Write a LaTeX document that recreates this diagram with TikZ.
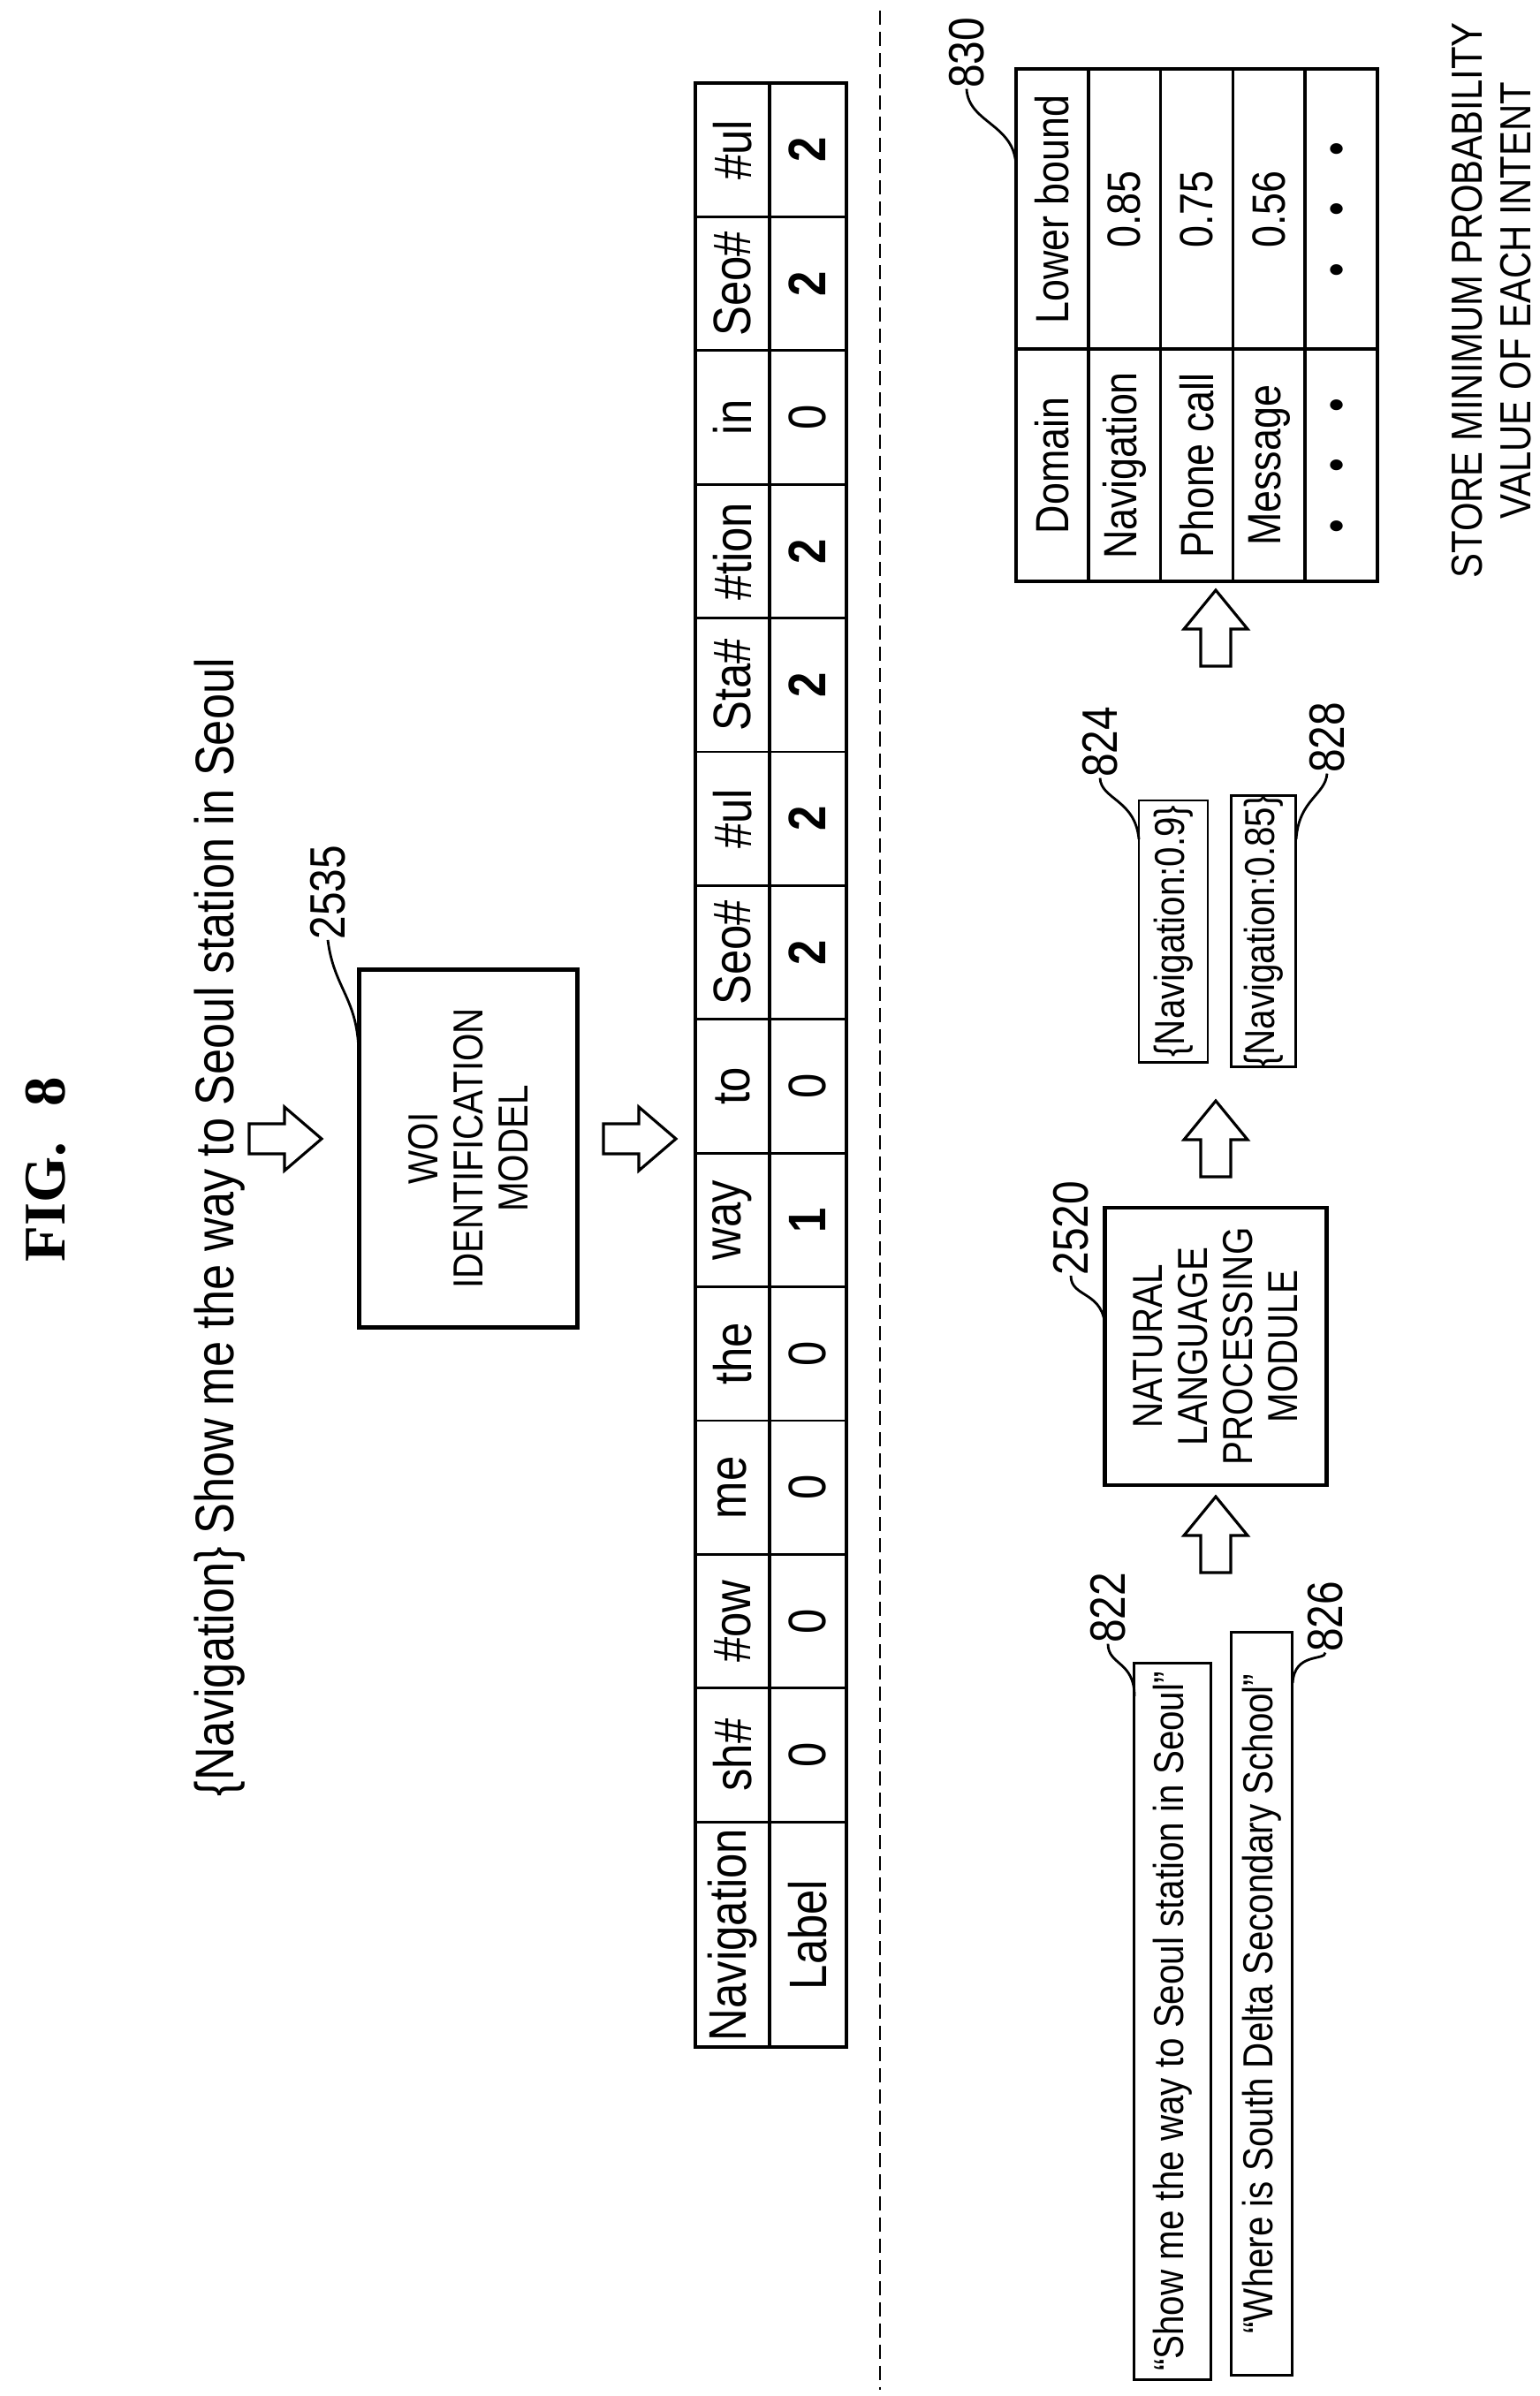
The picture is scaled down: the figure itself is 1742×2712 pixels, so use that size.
\documentclass[tikz,border=0pt]{standalone}
\usepackage{fontspec}
\setmainfont{Liberation Sans}[FakeStretch=0.85]
\newfontfamily\figfont{Liberation Serif}
\begin{document}
\begin{tikzpicture}[x=0.01cm,y=-0.01cm,
  txt/.style={rotate=90,inner sep=0pt,font=\fontsize{17}{20}\selectfont},
  small/.style={rotate=90,inner sep=0pt,align=center,font=\fontsize{13.5}{14.5}\selectfont},
  num/.style={rotate=90,inner sep=0pt,font=\fontsize{16}{18}\selectfont},
  box/.style={rotate=90,draw,line width=1.3pt,align=center,inner sep=0pt,font=\fontsize{13.5}{14.5}\selectfont},
  thinbox/.style={rotate=90,draw,line width=0.8pt,inner sep=0pt,font=\fontsize{13.5}{14.5}\selectfont},
  lead/.style={line width=0.8pt},
  grid/.style={line width=0.8pt},
  outer/.style={line width=1.4pt},
  harrow/.style={draw,line width=0.9pt,fill=white}]
\useasboundingbox (0,0) rectangle (1742,2712);
% title
\node[rotate=90,inner sep=0pt,font=\figfont\bfseries\fontsize{19}{22}\selectfont] (title) at (52,1324) {FIG.\hspace{0.6em}8};
\node[txt,font=\fontsize{17.5}{20}\selectfont] (sent) at (249,1389) {\{Navigation\} Show me the way to Seoul station in Seoul};
\newcommand{\rarrow}[2]{\draw[harrow] (#1-40,#2-17) -- (#1,#2-17) -- (#1,#2-36) -- (#1+42,#2) -- (#1,#2+36) -- (#1,#2+17) -- (#1-40,#2+17) -- cycle;}
\newcommand{\uarrow}[2]{\draw[harrow] (#1-17,#2+42) -- (#1-17,#2) -- (#1-36,#2) -- (#1,#2-44) -- (#1+36,#2) -- (#1+17,#2) -- (#1+17,#2+42) -- cycle;}
\rarrow{322}{1289}
\node[box,minimum width=4.05cm,minimum height=2.47cm,line width=1.6pt] (woi) at (530,1300) {WOI\\IDENTIFICATION\\MODEL};
\node[num] (l2535) at (371,1010) {2535};
\coordinate (e2535) at (406,1195);
\draw[lead] (l2535.west) .. controls (378,1120) and (406,1130) .. (e2535);
\rarrow{723}{1289}
% table
\draw[outer] (787,94) rectangle (958,2317);
\draw[outer] (871,94) -- (871,2317);
\foreach \k in {1,...,13} {\draw[grid] (787,{94+\k*151.4}) -- (958,{94+\k*151.4});}
\foreach \t/\v [count=\k from 0] in {\#ul/\textbf{2},Seo\#/\textbf{2},in/0,\#tion/\textbf{2},Sta\#/\textbf{2},\#ul/\textbf{2},Seo\#/\textbf{2},to/0,way/\textbf{1},the/0,me/0,\#ow/0,sh\#/0} {
  \node[txt] (h\k) at (829,{94+(\k+0.5)*151.4}) {\t};
  \node[txt] (v\k) at (914,{94+(\k+0.5)*151.4}) {\v};
}
\node[txt] (hnav) at (829,2190) {Navigation};
\node[txt] (vlab) at (914,2190) {Label};
% dashed
\draw[line width=0.7pt,dash pattern=on 0.16cm off 0.08cm] (996,12) -- (996,2705);
% bottom boxes
\node[thinbox,minimum width=8.1cm,minimum height=0.87cm] (b822) at (1327,2288) {“Show me the way to Seoul station in Seoul”};
\node[thinbox,minimum width=8.4cm,minimum height=0.69cm] (b826) at (1428,2268) {“Where is South Delta Secondary School”};
\node[num] (l822) at (1254,1820) {822};
\node[num] (l826) at (1500,1830) {826};
\coordinate (e822) at (1284,1920);
\coordinate (e826) at (1463,1905);
\draw[lead] (l822.west) .. controls (1254,1885) and (1284,1880) .. (e822);
\draw[lead] (l826.west) .. controls (1500,1880) and (1465,1870) .. (e826);
\uarrow{1376}{1738}
\node[box,minimum width=3.14cm,minimum height=2.51cm] (nlp) at (1376,1524) {NATURAL\\LANGUAGE\\PROCESSING\\MODULE};
\node[num] (l2520) at (1212,1390) {2520};
\coordinate (e2520) at (1251,1505);
\draw[lead] (l2520.west) .. controls (1212,1470) and (1250,1460) .. (e2520);
\uarrow{1376}{1290}
\node[thinbox,minimum width=2.96cm,minimum height=0.78cm] (b824) at (1328,1054) {\{Navigation:0.9\}};
\node[thinbox,minimum width=2.96cm,minimum height=0.73cm] (b828) at (1430,1054) {\{Navigation:0.85\}};
\node[num] (l824) at (1245,840) {824};
\node[num] (l828) at (1502,835) {828};
\coordinate (e824) at (1289,950);
\coordinate (e828) at (1467,950);
\draw[lead] (l824.west) .. controls (1246,905) and (1285,905) .. (e824);
\draw[lead] (l828.west) .. controls (1500,900) and (1470,905) .. (e828);
\uarrow{1376}{712}
% table 830
\draw[outer] (1150,78) rectangle (1559,658);
\draw[grid,line width=1pt] (1150,395) -- (1559,395);
\foreach \i in {1,...,4} {\draw[grid,line width=1pt] ({1150+\i*81.8},78) -- ({1150+\i*81.8},658);}
\foreach \d/\l [count=\i from 0] in {Domain/Lower bound,Navigation/0.85,Phone call/0.75,Message/0.56,{\textbullet\quad\textbullet\quad\textbullet}/{\textbullet\quad\textbullet\quad\textbullet}} {
  \node[txt,font=\fontsize{15}{18}\selectfont] (d\i) at ({1191+\i*81.8},527) {\d};
  \node[txt,font=\fontsize{15}{18}\selectfont] (p\i) at ({1191+\i*81.8},237) {\l};
}
\node[num] (l830) at (1094,60) {830};
\coordinate (e830) at (1150,190);
\draw[lead] (l830.west) .. controls (1096,140) and (1150,140) .. (e830);
\node[small,font=\fontsize{14}{15.5}\selectfont] (store) at (1688,340) {STORE MINIMUM PROBABILITY\\VALUE OF EACH INTENT};
\end{tikzpicture}
\end{document}
